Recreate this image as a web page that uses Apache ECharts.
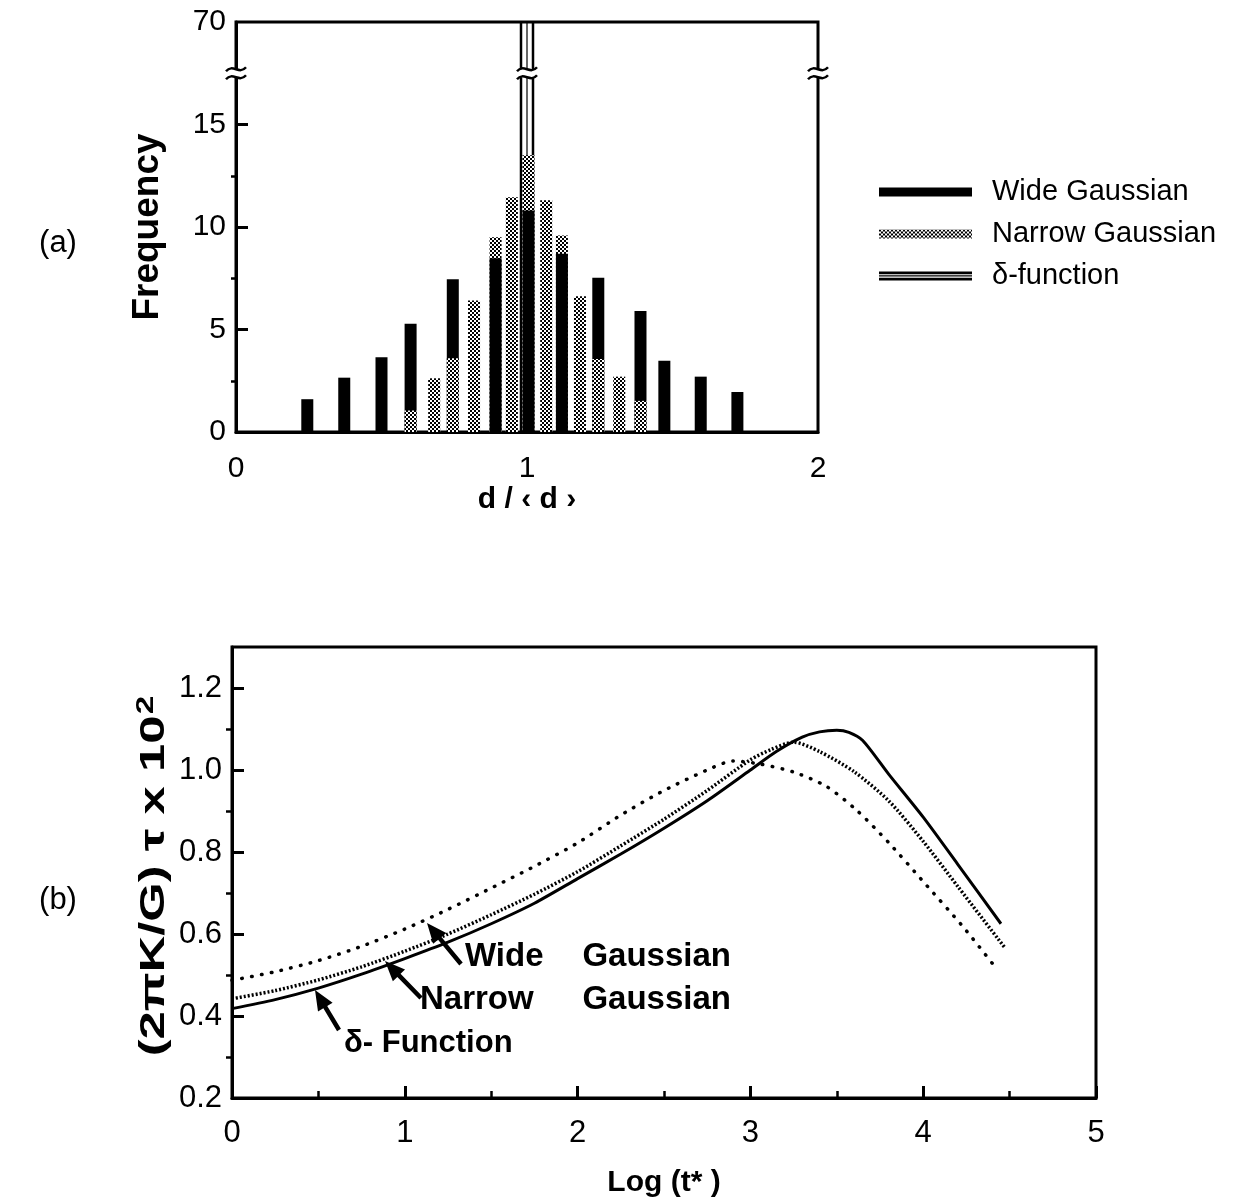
<!DOCTYPE html>
<html>
<head>
<meta charset="utf-8">
<script src="https://cdn.jsdelivr.net/npm/echarts@6.0.0/dist/echarts.min.js"></script>
<style>
html,body{margin:0;padding:0;background:#fff;}
#container{width:1246px;height:1204px;}
</style>
</head>
<body>
<div id="container"></div>
<script>
// ---- (a) histogram data: bar centre d/<d> and frequency ----
var wideX   = [0.245, 0.372, 0.5, 0.6, 0.745, 0.892, 1.005, 1.12, 1.245, 1.39, 1.472, 1.597, 1.723];
var wideH   = [1.6, 2.65, 3.65, 5.28, 7.45, 8.47, 10.8, 8.7, 7.52, 5.9, 3.48, 2.7, 1.95];
var narrowX = [0.6, 0.681, 0.745, 0.818, 0.892, 0.948, 1.005, 1.066, 1.12, 1.182, 1.245, 1.317, 1.39];
var narrowH = [1.05, 2.62, 3.6, 6.42, 9.5, 11.45, 13.5, 11.3, 9.58, 6.62, 3.56, 2.7, 1.52];
var deltaX  = [1.0];
var deltaH  = [70];
var freqTicks = [0, 5, 10, 15, 20];   // 20 sits above the break and reads as 70

// ---- (b) curves: Log(t*) and (2piK/G) tau x 10^2 ----
var wideLogT   = [0, 0.25, 0.5, 0.75, 1.0, 1.25, 1.5, 1.75, 2.0, 2.25, 2.5, 2.75, 2.9, 3.05, 3.25, 3.44, 3.62, 3.8, 4.0, 4.23, 4.41];
var wideTau    = [0.487, 0.508, 0.535, 0.57, 0.612, 0.66, 0.712, 0.765, 0.822, 0.89, 0.95, 1.0, 1.022, 1.015, 0.995, 0.96, 0.9, 0.823, 0.728, 0.618, 0.523];
var narrowLogT = [0, 0.25, 0.5, 0.75, 1.0, 1.25, 1.5, 1.75, 2.0, 2.25, 2.5, 2.75, 3.0, 3.12, 3.25, 3.4, 3.6, 3.8, 4.0, 4.2, 4.47];
var narrowTau  = [0.442, 0.462, 0.488, 0.52, 0.558, 0.6, 0.647, 0.697, 0.752, 0.815, 0.88, 0.95, 1.025, 1.05, 1.068, 1.045, 0.996, 0.925, 0.826, 0.716, 0.568];
var deltaLogT  = [0, 0.25, 0.5, 0.75, 1.0, 1.25, 1.5, 1.75, 2.0, 2.25, 2.5, 2.75, 3.0, 3.15, 3.3, 3.4, 3.5, 3.57, 3.65, 3.8, 4.0, 4.2, 4.45];
var deltaTau   = [0.418, 0.44, 0.468, 0.502, 0.54, 0.58, 0.625, 0.675, 0.735, 0.795, 0.858, 0.925, 1.0, 1.045, 1.08, 1.093, 1.097, 1.092, 1.072, 0.99, 0.885, 0.77, 0.625];
var tauTicks   = [0.2, 0.4, 0.6, 0.8, 1.0, 1.2];
var tauMinor   = [0.3, 0.5, 0.7, 0.9, 1.1];

function zip(a, b) { return a.map(function (v, i) { return [v, b[i]]; }); }

var FONT = "'Liberation Sans', Arial, Helvetica, sans-serif";
var BAR_W = 12;

var dom = document.getElementById('container');
var myChart = echarts.init(dom);

// halftone-ish pattern for narrow gaussian
var pat = document.createElement('canvas');
pat.width = 4; pat.height = 4;
var ctx = pat.getContext('2d');
ctx.fillStyle = '#fff'; ctx.fillRect(0, 0, 4, 4);
ctx.fillStyle = '#000'; ctx.fillRect(0, 0, 2, 2); ctx.fillRect(2, 2, 2, 2);
var checker = { image: pat, repeat: 'repeat' };

function barRender(fill) {
    return function (params, api) {
        var x = api.value(0), h = api.value(1);
        var p0 = api.coord([x, 0]), p1 = api.coord([x, h]);
        return {
            type: 'rect',
            shape: { x: p0[0] - BAR_W / 2, y: p1[1], width: BAR_W, height: p0[1] - p1[1] },
            style: { fill: fill },
            z2: Math.round(300 - h * 10)   // shorter bar in front
        };
    };
}

function deltaRender(params, api) {
    var x = api.value(0), h = api.value(1);
    var p0 = api.coord([x, 0]), p1 = api.coord([x, h]);
    var top = Math.max(p1[1], params.coordSys.y);
    var offs = [[-6, 2.5], [0, 1.2], [6, 2.5]];
    return {
        type: 'group',
        children: offs.map(function (o) {
            return {
                type: 'line', z2: 1,
                shape: { x1: p0[0] + o[0], y1: p0[1], x2: p0[0] + o[0], y2: top },
                style: { stroke: '#000', lineWidth: o[1] }
            };
        })
    };
}

var axisLineStyle = { show: true, onZero: false, lineStyle: { color: '#000', width: 3 } };
var tickLabel = { color: '#000', fontSize: 30, fontFamily: FONT };

function arrow(tip, tail) {
    var dx = tip[0] - tail[0], dy = tip[1] - tail[1];
    var len = Math.sqrt(dx * dx + dy * dy);
    var ux = dx / len, uy = dy / len, nx = -uy, ny = ux;
    var hl = 20, hw = 17, sw = 4.5;
    var bx = tip[0] - ux * hl, by = tip[1] - uy * hl;
    return {
        type: 'polygon', z: 50,
        shape: { points: [
            [tail[0] + nx * sw / 2, tail[1] + ny * sw / 2],
            [bx + nx * sw / 2, by + ny * sw / 2],
            [bx + nx * hw / 2, by + ny * hw / 2],
            tip,
            [bx - nx * hw / 2, by - ny * hw / 2],
            [bx - nx * sw / 2, by - ny * sw / 2],
            [tail[0] - nx * sw / 2, tail[1] - ny * sw / 2]
        ] },
        style: { fill: '#000' }
    };
}

function txt(x, y, s, font, align) {
    return { type: 'text', x: x, y: y, z: 50,
        style: { text: s, font: font, fill: '#000', align: align || 'left', verticalAlign: 'middle' } };
}

var annFont = "bold 33px " + FONT;
var graphics = [
    txt(58, 243, '(a)', '31px ' + FONT, 'center'),
    txt(58, 900, '(b)', '31px ' + FONT, 'center'),
    txt(465, 957, 'Wide', annFont),
    txt(731, 957, 'Gaussian', annFont, 'right'),
    txt(420, 1000, 'Narrow', annFont),
    txt(731, 1000, 'Gaussian', annFont, 'right'),
    txt(344, 1043, 'δ- Function', "bold 31px " + FONT),
    arrow([427, 923], [461, 964]),
    arrow([385, 961], [421, 998]),
    arrow([315, 990], [339, 1030]),
    // y title of (b), stretched along its baseline like the original lettering
    { type: 'text', x: 154, y: 876, rotation: Math.PI / 2, scaleX: 1.45, z: 50,
      style: { text: '{a|(2πK/G) τ x 10}{s|2}', fill: '#000', align: 'center', verticalAlign: 'middle',
        rich: {
            a: { font: 'bold 35px ' + FONT, fill: '#000' },
            s: { font: 'bold 23px ' + FONT, fill: '#000', verticalAlign: 'top', padding: [0, 0, 15, 1] }
        } } }
];

option = {
    backgroundColor: '#fff',
    animation: false,
    legend: {
        data: [
            { name: 'Wide Gaussian', icon: 'rect', itemStyle: { color: '#000' } },
            { name: 'Narrow Gaussian', icon: 'rect', itemStyle: { color: checker } },
            { name: 'δ-function', icon: 'path://M0,0H93V3H0Z M0,4.3H93V5.5H0Z M0,7H93V10H0Z', itemStyle: { color: '#000' } }
        ],
        orient: 'vertical',
        left: 874, top: 172,
        itemWidth: 93, itemHeight: 9, itemGap: 12,
        symbolKeepAspect: false,
        selectedMode: false,
        textStyle: { color: '#000', fontSize: 29, fontFamily: FONT, lineHeight: 30, padding: [0, 0, 0, 15] }
    },
    grid: [
        { left: 236, top: 22, width: 582, height: 410, show: true, borderColor: '#000', borderWidth: 3 },
        { left: 232, top: 647, width: 864, height: 451, show: true, borderColor: '#000', borderWidth: 3 }
    ],
    xAxis: [
        {
            gridIndex: 0, type: 'value', min: 0, max: 2, interval: 1,
            axisLine: axisLineStyle, axisTick: { show: false }, splitLine: { show: false },
            axisLabel: Object.assign({ margin: 22 }, tickLabel),
            name: 'd / ‹ d ›', nameLocation: 'middle', nameGap: 52,
            nameTextStyle: { color: '#000', fontSize: 30, fontWeight: 'bold', fontFamily: FONT }
        },
        {
            gridIndex: 1, type: 'value', min: 0, max: 5, interval: 1,
            axisLine: axisLineStyle,
            axisTick: { inside: true, length: 12, lineStyle: { color: '#000', width: 3 } },
            minorTick: { show: true, splitNumber: 2, length: 7, lineStyle: { color: '#000', width: 2.5 } },
            splitLine: { show: false }, minorSplitLine: { show: false },
            axisLabel: Object.assign({}, tickLabel, { margin: 20, fontSize: 31 }),
            name: 'Log (t* )', nameLocation: 'middle', nameGap: 70,
            nameTextStyle: { color: '#000', fontSize: 30, fontWeight: 'bold', fontFamily: FONT }
        }
    ],
    yAxis: [
        {
            gridIndex: 0, type: 'value', min: 0, max: 20, interval: 5,
            axisLine: axisLineStyle, splitLine: { show: false },
            axisTick: { inside: true, length: 12, customValues: [5, 10, 15], lineStyle: { color: '#000', width: 3 } },
            axisLabel: Object.assign({ margin: 10, customValues: freqTicks,
                formatter: function (v) { return v >= 20 ? '70' : String(v); } }, tickLabel),
            name: 'Frequency', nameLocation: 'middle', nameGap: 70,
            nameTextStyle: { color: '#000', fontSize: 37, fontWeight: 'bold', fontFamily: FONT }
        },
        {
            gridIndex: 0, type: 'value', min: 0, max: 20, interval: 5,
            axisLine: { show: false }, splitLine: { show: false }, axisLabel: { show: false },
            axisTick: { inside: true, length: 5, customValues: [2.5, 7.5, 12.5], lineStyle: { color: '#000', width: 2.5 } }
        },
        {
            gridIndex: 1, type: 'value', min: 0.2, max: 1.3, interval: 0.2,
            axisLine: axisLineStyle, splitLine: { show: false },
            axisTick: { inside: true, length: 12, customValues: tauTicks, lineStyle: { color: '#000', width: 3 } },
            axisLabel: Object.assign({}, tickLabel, { margin: 10, fontSize: 31, customValues: tauTicks,
                formatter: function (v) { return v.toFixed(1); } })
        },
        {
            gridIndex: 1, type: 'value', min: 0.2, max: 1.3, interval: 0.2,
            axisLine: { show: false }, splitLine: { show: false }, axisLabel: { show: false },
            axisTick: { inside: true, length: 6, customValues: tauMinor, lineStyle: { color: '#000', width: 2.5 } }
        }
    ],
    series: [
        { name: 'Wide Gaussian', type: 'custom', xAxisIndex: 0, yAxisIndex: 0,
          itemStyle: { color: '#000' }, renderItem: barRender('#000'), data: zip(wideX, wideH) },
        { name: 'Narrow Gaussian', type: 'custom', xAxisIndex: 0, yAxisIndex: 0,
          itemStyle: { color: '#555' }, renderItem: barRender(checker), data: zip(narrowX, narrowH) },
        { name: 'δ-function', type: 'custom', xAxisIndex: 0, yAxisIndex: 0,
          itemStyle: { color: '#000' }, renderItem: deltaRender, data: zip(deltaX, deltaH) },
        { name: 'wide curve', type: 'line', xAxisIndex: 1, yAxisIndex: 2, smooth: 0.25, showSymbol: false,
          lineStyle: { color: '#000', width: 3.5, type: [0.5, 9.5], cap: 'round' }, data: zip(wideLogT, wideTau) },
        { name: 'narrow curve', type: 'line', xAxisIndex: 1, yAxisIndex: 2, smooth: 0.25, showSymbol: false,
          lineStyle: { color: '#000', width: 3.5, type: [2, 2] }, data: zip(narrowLogT, narrowTau) },
        { name: 'delta curve', type: 'line', xAxisIndex: 1, yAxisIndex: 2, smooth: 0.25, showSymbol: false,
          lineStyle: { color: '#000', width: 3 }, data: zip(deltaLogT, deltaTau) }
    ],
    graphic: graphics
};

if (option && typeof option === "object") {
    myChart.setOption(option, true);
}

// axis break marks at 17.5 on both frame sides and on the delta spike
function breakMark(p) {
    var cx = p[0], cy = p[1];
    var wave = function (dy) {
        return { type: 'bezierCurve', z: 60,
            shape: { x1: cx - 10, y1: cy + dy + 2, x2: cx + 10, y2: cy + dy - 2,
                     cpx1: cx - 3, cpy1: cy + dy - 6, cpx2: cx + 3, cpy2: cy + dy + 6 },
            style: { stroke: '#000', lineWidth: 2.5, fill: null } };
    };
    return [
        { type: 'rect', z: 59, shape: { x: cx - 11, y: cy - 4, width: 22, height: 8 }, style: { fill: '#fff' } },
        wave(-4), wave(4)
    ];
}
var breaks = [];
[0, 1, 2].forEach(function (xv) {
    var p = myChart.convertToPixel({ xAxisIndex: 0, yAxisIndex: 0 }, [xv, 17.5]);
    breaks = breaks.concat(breakMark(p));
});
myChart.setOption({ graphic: graphics.concat(breaks) });
</script>
</body>
</html>
